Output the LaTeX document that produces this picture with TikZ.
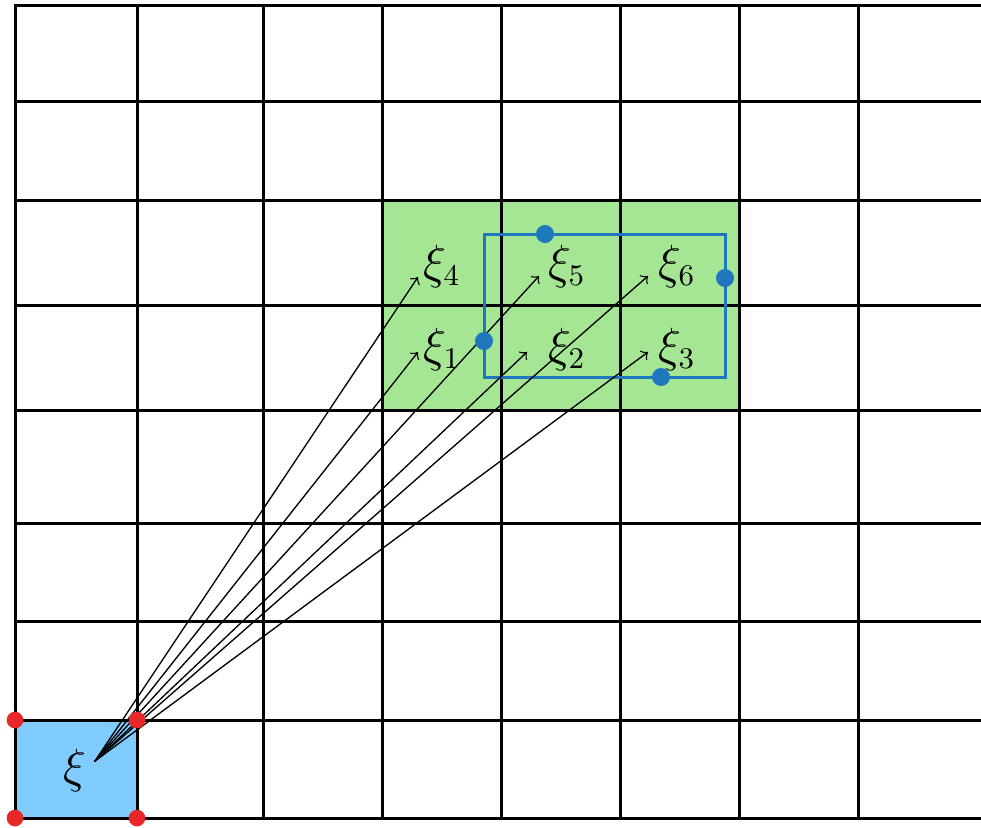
\documentclass[tikz,border=0pt]{standalone}
\usepackage{amsmath}
\definecolor{cellgreen}{RGB}{165,230,148}
\definecolor{cellblue}{RGB}{128,204,255}
\definecolor{boxblue}{RGB}{31,119,190}
\definecolor{dotred}{RGB}{232,40,40}
\begin{document}
\begin{tikzpicture}[x=0.3pt,y=-0.3pt,line cap=rect,
  gridline/.style={line width=0.9pt,black},
  ray/.style={->,line width=0.4pt,black},
  xilabel/.style={inner sep=0pt,font=\fontsize{13.5}{16}\selectfont},
  bluedot/.style={fill=boxblue,draw=none},
  reddot/.style={fill=dotred,draw=none}]
\useasboundingbox (0,0) rectangle (981,827);

% --- coloured cells ---
\fill[cellgreen] (382,200) rectangle (739,410);
\fill[cellblue] (15,720) rectangle (137,818);

% --- grid ---
\foreach \gx in {15,137,263,382,501,620,739,858}
  \draw[gridline] (\gx,5) -- (\gx,818);
\foreach \gy in {5,101,200,305,410,523,621,720,818}
  \draw[gridline] (15,\gy) -- (985,\gy);

% --- blue rectangle ---
\draw[boxblue,line width=0.9pt] (484,234) rectangle (725,377);

% --- labels ---
\node[xilabel,font=\fontsize{15.5}{18}\selectfont] (xi) at (75,770) {$\xi$};
\node[xilabel] (xi4) at (442,266) {$\xi_4$};
\node[xilabel] (xi5) at (567,266) {$\xi_5$};
\node[xilabel] (xi6) at (677,266) {$\xi_6$};
\node[xilabel] (xi1) at (442,349) {$\xi_1$};
\node[xilabel] (xi2) at (567,349) {$\xi_2$};
\node[xilabel] (xi3) at (677,349) {$\xi_3$};

% --- rays from the source cell ---
\coordinate (src) at (95,761);
\coordinate (t4) at (418,277);
\coordinate (t5) at (539,276);
\coordinate (t6) at (648,276);
\coordinate (t1) at (418,352);
\coordinate (t2) at (527,352);
\coordinate (t3) at (648,352);
\foreach \t in {t1,t2,t3,t4,t5,t6}
  \draw[ray] (src) -- (\t);

% --- dots ---
\foreach \p in {(545,234),(725,278),(484,341),(661,377)}
  \fill[bluedot] \p circle (2.7pt);
\foreach \p in {(15,720),(137,720),(15,818),(137,818)}
  \fill[reddot] \p circle (2.5pt);

\end{tikzpicture}
\end{document}
